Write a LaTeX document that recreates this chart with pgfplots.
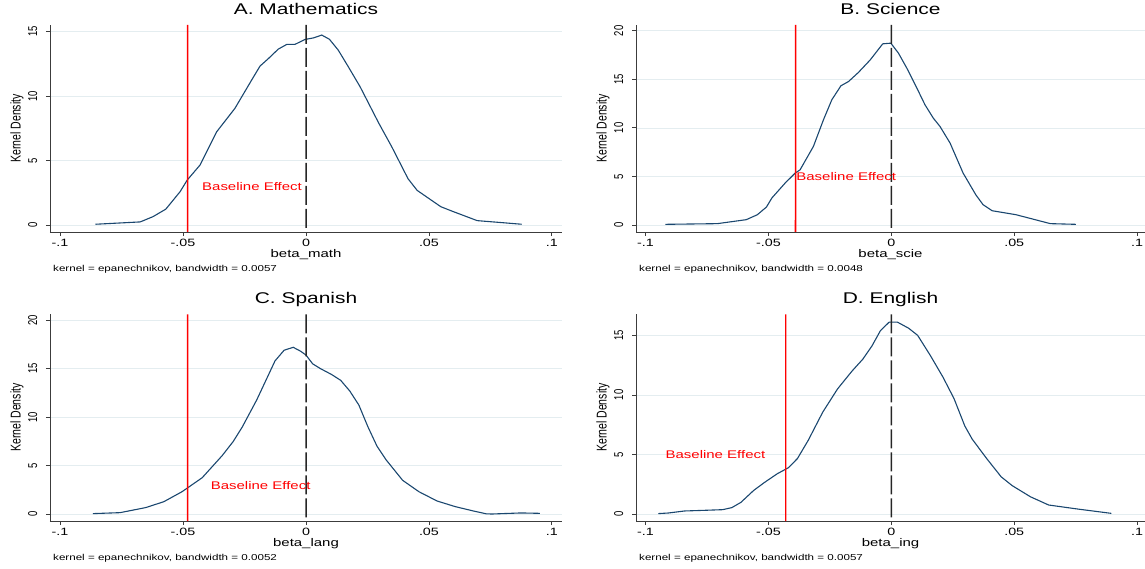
\documentclass[border=0pt]{standalone}
\usepackage{pgfplots}
\pgfplotsset{compat=1.18}
\usepackage{fontspec}
\setmainfont{Liberation Sans}[FakeStretch=1.35]
\newfontfamily\rotfont{Liberation Sans}[FakeStretch=0.7407]
\definecolor{curve}{RGB}{26,71,111}
\definecolor{gridc}{RGB}{228,237,240}
\definecolor{axc}{RGB}{60,60,60}
\definecolor{baser}{RGB}{255,0,0}
\pgfplotsset{
  kd/.style={
    scale only axis, anchor=south west,
    axis x line*=bottom, axis y line*=left,
    axis line style={-, draw=axc, line width=0.9pt},
    enlargelimits=false, clip=false,
    tick align=outside, major tick length=4pt,
    tick style={draw=axc, line width=0.9pt},
    xtick={-0.1,-0.05,0,0.05,0.1}, xticklabels={-.1,-.05,0,.05,.1},
    xticklabel style={font=\fontsize{10.6}{12}\selectfont, anchor=base, yshift=-10.5pt},
    yticklabel style={font=\rotfont\fontsize{12.8}{14}\selectfont, rotate=90, anchor=base, yshift=9pt},
    ymajorgrids, grid style={draw=gridc, line width=0.8pt},
    ylabel={Kernel Density},
    ylabel style={at={(axis description cs:0,0.5)}, anchor=base, yshift=29.5pt, font=\rotfont\fontsize{14.2}{16}\selectfont},
    xlabel style={at={(axis description cs:0.5,0)}, anchor=base, yshift=-25.7pt, font=\fontsize{11.1}{13}\selectfont},
    title style={at={(axis description cs:0.5,1)}, anchor=base, yshift=4.5pt, font=\fontsize{15.5}{18}\selectfont},
  },
  dens/.style={draw=curve, line width=1.1pt},
  redline/.style={draw=baser, line width=1.6pt},
  zeroline/.style={draw=black!85, line width=1.5pt, dash pattern=on 19pt off 4pt},
}
\newcommand{\note}[1]{\node[anchor=base west, inner sep=0pt, xshift=3pt, yshift=-39.5pt, font=\fontsize{8.6}{10}\selectfont] at (rel axis cs:0,0) {kernel = epanechnikov, bandwidth = #1};}
\newcommand{\beff}[2]{\node[anchor=west, inner sep=0pt, text=baser, font=\fontsize{11.1}{13}\selectfont] at (axis cs:#1,#2) {Baseline Effect};}
\begin{document}
\begin{tikzpicture}[x=1pt,y=1pt]
\path[use as bounding box] (0,0) rectangle (1145,568);
% ---------------- A
\begin{axis}[kd, at={(50pt,336pt)}, width=512pt, height=207pt,
  xmin=-0.1041, xmax=0.1041, ymin=-0.52, ymax=15.5,
  ytick={0,5,10,15}, yticklabels={0,5,10,15},
  title={A. Mathematics}, xlabel={beta\_math}]
\addplot[dens] table {
-0.0856 0.08
-0.0674 0.26
-0.0622 0.67
-0.0570 1.25
-0.0512 2.60
-0.0483 3.50
-0.0431 4.66
-0.0363 7.24
-0.0289 9.05
-0.0221 11.24
-0.0187 12.32
-0.0153 12.90
-0.0113 13.63
-0.0078 14.0
-0.0045 14.0
-0.0004 14.38
0.0030 14.5
0.0064 14.72
0.0095 14.4
0.0131 13.56
0.0172 12.27
0.0220 10.72
0.0296 7.9
0.0348 6.1
0.0415 3.6
0.0452 2.7
0.0548 1.44
0.0593 1.10
0.0696 0.36
0.0800 0.20
0.0877 0.08
};
\addplot[redline] coordinates {(-0.04815,-0.52) (-0.048145,15.5)};
\addplot[zeroline] coordinates {(0,15.5) (0.000005,-0.52)};
\beff{-0.0423}{3}
\note{0.0057}
\end{axis}
% ---------------- B
\begin{axis}[kd, at={(636pt,336pt)}, width=509pt, height=207pt,
  xmin=-0.10386, xmax=0.1032, ymin=-0.72, ymax=20.6,
  ytick={0,5,10,15,20}, yticklabels={0,5,10,15,20},
  title={B. Science}, xlabel={beta\_scie}]
\addplot[dens] table {
-0.0919 0.07
-0.0708 0.14
-0.0590 0.55
-0.0545 1.06
-0.0508 1.85
-0.0486 2.78
-0.0432 4.32
-0.0391 5.35
-0.0371 5.69
-0.0317 8.09
-0.0276 10.84
-0.0242 12.9
-0.0205 14.34
-0.0174 14.78
-0.0134 15.71
-0.0086 17.0
-0.0035 18.66
-0.0002 18.73
0.0029 17.7
0.0063 16.16
0.0104 14.1
0.0137 12.38
0.0171 11.0
0.0198 10.15
0.0239 8.44
0.0292 5.35
0.0344 3.1
0.0373 2.1
0.0410 1.47
0.0507 1.06
0.0559 0.72
0.0647 0.14
0.0751 0.07
};
\addplot[redline] coordinates {(-0.03896,-0.72) (-0.038955,20.6)};
\addplot[zeroline] coordinates {(0,20.6) (0.000005,-0.72)};
\beff{-0.0387}{5}
\note{0.0048}
\end{axis}
% ---------------- C
\begin{axis}[kd, at={(50pt,47pt)}, width=512pt, height=206.7pt,
  xmin=-0.1041, xmax=0.1041, ymin=-0.69, ymax=20.6,
  ytick={0,5,10,15,20}, yticklabels={0,5,10,15,20},
  title={C. Spanish}, xlabel={beta\_lang}]
\addplot[dens] table {
-0.0867 0.07
-0.0756 0.17
-0.0652 0.69
-0.0578 1.30
-0.0504 2.33
-0.0422 3.77
-0.0341 6.04
-0.0296 7.5
-0.0259 9.0
-0.0200 11.8
-0.0163 13.8
-0.0126 15.8
-0.0089 16.9
-0.0052 17.2
-0.0022 16.8
0.0000 16.4
0.0027 15.5
0.0059 15.0
0.0104 14.4
0.0141 13.8
0.0178 12.7
0.0215 11.25
0.0252 9.0
0.0289 7.0
0.0326 5.6
0.0393 3.5
0.0459 2.33
0.0533 1.37
0.0607 0.79
0.0681 0.34
0.0733 0.05
0.0756 0.03
0.0874 0.14
0.0951 0.10
};
\addplot[redline] coordinates {(-0.04815,-0.69) (-0.048145,20.6)};
\addplot[zeroline] coordinates {(0,20.6) (0.000005,-0.69)};
\beff{-0.0388}{3}
\note{0.0052}
\end{axis}
% ---------------- D
\begin{axis}[kd, at={(636pt,47pt)}, width=509pt, height=206.7pt,
  xmin=-0.10386, xmax=0.1032, ymin=-0.56, ymax=16.76,
  ytick={0,5,10,15}, yticklabels={0,5,10,15},
  title={D. English}, xlabel={beta\_ing}]
\addplot[dens] table {
-0.0948 0.06
-0.0907 0.11
-0.0841 0.28
-0.0767 0.33
-0.0686 0.39
-0.0649 0.56
-0.0612 1.0
-0.0560 2.0
-0.0516 2.67
-0.0464 3.4
-0.0419 3.9
-0.0382 4.67
-0.0338 6.2
-0.0279 8.56
-0.0219 10.5
-0.0160 12.0
-0.0116 13.0
-0.0079 14.1
-0.0044 15.4
-0.0009 16.1
0.0025 16.1
0.0070 15.6
0.0107 15.0
0.0159 13.3
0.0210 11.5
0.0255 9.7
0.0299 7.4
0.0329 6.3
0.0388 4.67
0.0447 3.14
0.0492 2.4
0.0566 1.47
0.0640 0.78
0.0759 0.44
0.0895 0.08
};
\addplot[redline, line width=1.2pt] coordinates {(-0.04296,-0.56) (-0.042955,16.76)};
\addplot[zeroline] coordinates {(0,16.76) (0.000005,-0.56)};
\beff{-0.0919}{5}
\note{0.0057}
\end{axis}
\end{tikzpicture}
\end{document}
